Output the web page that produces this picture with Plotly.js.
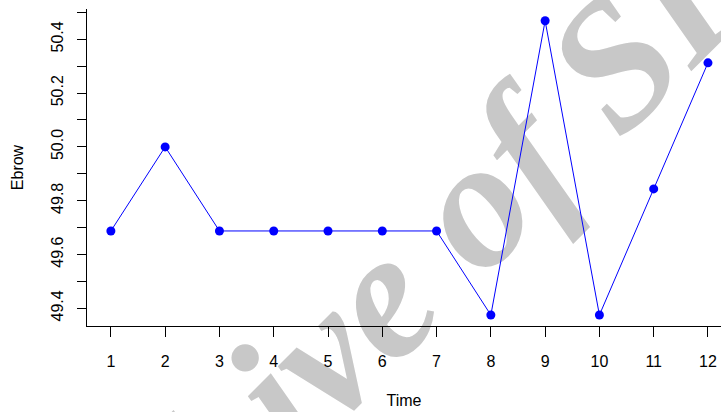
<!DOCTYPE html>
<html>
<head>
<meta charset="utf-8">
<script src="https://cdn.plot.ly/plotly-3.0.1.min.js"></script>
<style>
html,body{margin:0;padding:0;background:#fff;}
#bg,#chart{position:absolute;left:0;top:0;width:721px;height:412px;}
</style>
</head>
<body>
<div id="bg"></div>
<div id="chart"></div>
<script>
// Data
const timePoints = [1, 2, 3, 4, 5, 6, 7, 8, 9, 10, 11, 12];
const ebrowValues = [49.6875, 50.0, 49.6875, 49.6875, 49.6875, 49.6875, 49.6875, 49.375, 50.46875, 49.375, 49.84375, 50.3125];
const yTickValues = [49.4, 49.5, 49.6, 49.7, 49.8, 49.9, 50.0, 50.1, 50.2, 50.3, 50.4, 50.5];
const yTickLabels = ["49.4", "", "49.6", "", "49.8", "", "50.0", "", "50.2", "", "50.4", ""];
const xTickLabels = ["1", "2", "3", "4", "5", "6", "7", "8", "9", "10", "11", "12"];
const watermarkText = "Archive of SID";

const font = "Liberation Sans, Arial, sans-serif";

// Background watermark layer
Plotly.newPlot('bg', [], {
  width: 721, height: 412,
  margin: {l: 0, r: 0, t: 0, b: 0},
  paper_bgcolor: '#ffffff', plot_bgcolor: '#ffffff',
  xaxis: {visible: false, range: [0, 721]},
  yaxis: {visible: false, range: [412, 0]},
  annotations: [{
    text: watermarkText, x: 0.538, y: 0.302, xref: 'paper', yref: 'paper',
    xanchor: 'center', yanchor: 'middle', showarrow: false, textangle: -45,
    font: {family: 'Liberation Serif, Times New Roman, serif', size: 182, color: '#c8c8c8', weight: 'bold', style: 'italic'}
  }]
}, {staticPlot: true});

const trace = {
  x: timePoints, y: ebrowValues, type: 'scatter', mode: 'lines+markers',
  line: {color: '#0000ff', width: 1},
  marker: {color: '#0000ff', size: 9},
  cliponaxis: false
};

const layout = {
  width: 721, height: 412,
  margin: {l: 87, r: 0, t: 9, b: 86},
  paper_bgcolor: 'rgba(0,0,0,0)', plot_bgcolor: 'rgba(0,0,0,0)',
  showlegend: false,
  font: {family: font, size: 16, color: '#000'},
  xaxis: {
    range: [0.56, 12.24], showgrid: false, zeroline: false,
    showline: true, linecolor: '#000', linewidth: 1,
    tickmode: 'array', tickvals: timePoints, ticktext: xTickLabels,
    ticks: 'outside', ticklen: 10, tickwidth: 1, tickcolor: '#000',
    ticklabelstandoff: 11,
    tickfont: {family: font, size: 16, color: '#000'},
    title: {text: 'Time', font: {family: font, size: 16, color: '#000'}, standoff: 25}
  },
  yaxis: {
    range: [49.3342, 50.5126], showgrid: false, zeroline: false,
    showline: true, linecolor: '#000', linewidth: 1,
    tickmode: 'array', tickvals: yTickValues, ticktext: yTickLabels,
    ticks: 'outside', ticklen: 9, tickwidth: 1, tickcolor: '#000',
    tickangle: -90, ticklabelstandoff: 8,
    tickfont: {family: font, size: 16, color: '#000'},
    title: {text: 'Ebrow', font: {family: font, size: 16, color: '#000'}, standoff: 20}
  }
};

Plotly.newPlot('chart', [trace], layout, {staticPlot: true});
</script>
</body>
</html>
